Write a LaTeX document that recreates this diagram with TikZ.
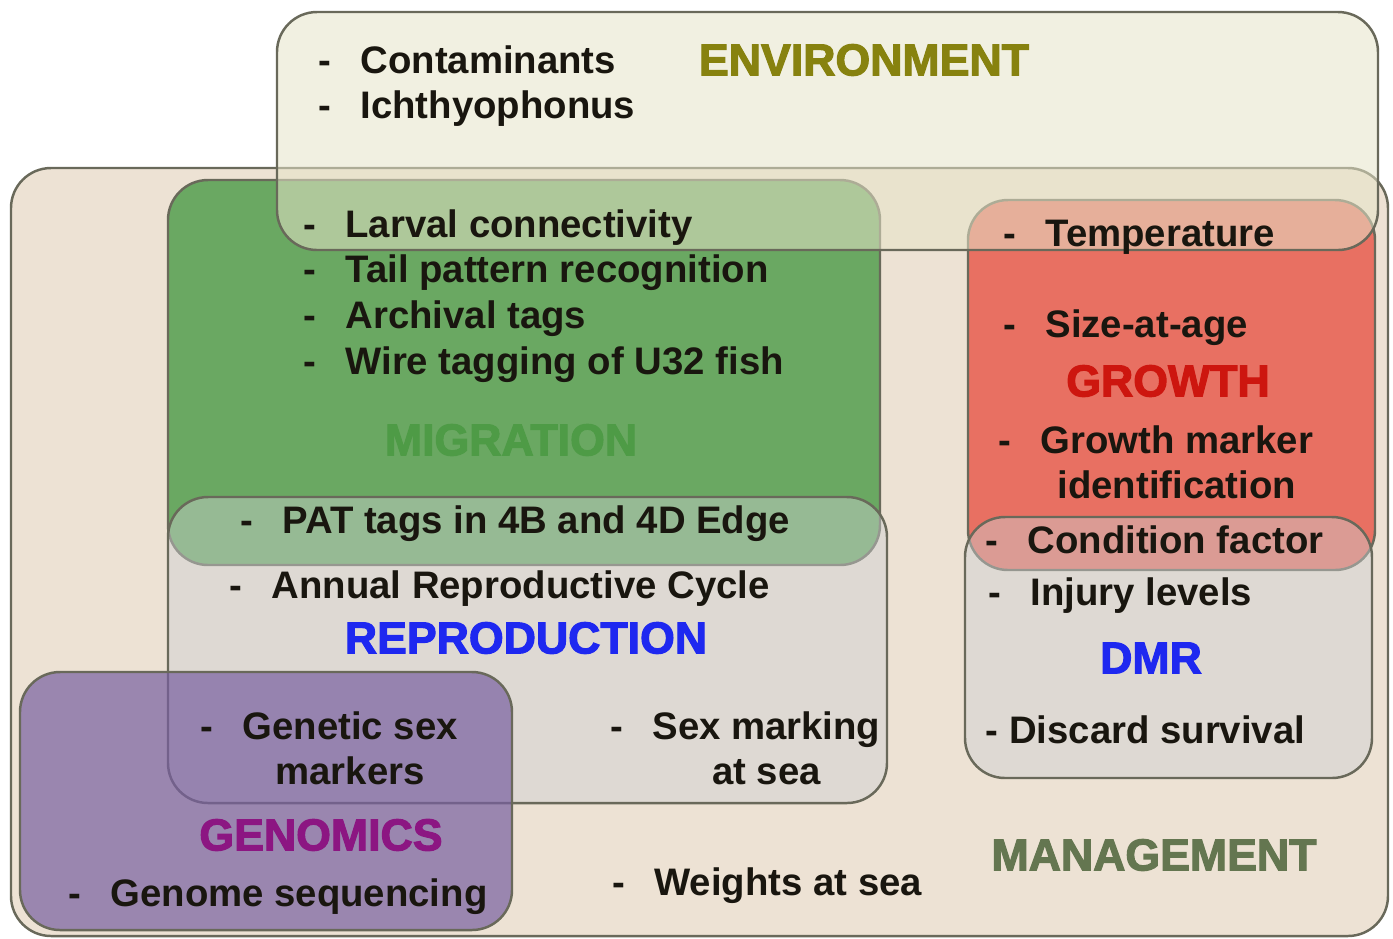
\documentclass[tikz,border=0pt]{standalone}
\usepackage{fontspec}
\setmainfont{Liberation Sans}
\newfontfamily\titlefont[UprightFont={* Bold},UprightFeatures={FakeBold=2.5}]{Liberation Sans}
\usetikzlibrary{positioning}

\definecolor{boxline}{RGB}{105,105,90}
\definecolor{itemtext}{RGB}{25,22,15}
\definecolor{mgmtfill}{RGB}{237,226,212}
\definecolor{envfill}{RGB}{230,228,200}
\definecolor{migfill}{RGB}{106,168,98}
\definecolor{growfill}{RGB}{232,112,98}
\definecolor{greyfill}{RGB}{205,208,210}
\definecolor{genfill}{RGB}{120,95,160}
\definecolor{envtitle}{RGB}{135,130,15}
\definecolor{migtitle}{RGB}{78,155,70}
\definecolor{growtitle}{RGB}{205,22,15}
\definecolor{reprotitle}{RGB}{30,40,240}
\definecolor{gentitle}{RGB}{140,22,130}
\definecolor{mgmttitle}{RGB}{100,118,80}

\tikzset{
  area box/.style={draw=boxline,line width=0.7pt,rounded corners=0.4cm},
  item/.style={anchor=base west,inner sep=0pt,text=itemtext,
    font=\bfseries\fontsize{10.9}{12.8}\selectfont},
  group label/.style={inner sep=0pt,font=\titlefont\fontsize{12.7}{15}\selectfont},
}
\newcommand{\dashitem}[1]{-\hspace{2.9mm}#1}

\begin{document}
\begin{tikzpicture}[x=0.01cm,y=-0.01cm]
    \useasboundingbox (0,0) rectangle (1393,938);

    % areas, back to front
    \path[area box,fill=mgmtfill] (11,168) rectangle (1388,936);
    \path[area box,fill=migfill] (168,180) rectangle (880,565);
    \path[area box,fill=growfill] (968,200) rectangle (1375,570);
    \path[area box,fill=greyfill,fill opacity=0.45] (168,497) rectangle (887,803);
    \path[area box,fill=greyfill,fill opacity=0.45] (965,517) rectangle (1372,778);
    \path[area box,fill=genfill,fill opacity=0.7] (20,672) rectangle (512,930);
    \path[area box,fill=envfill,fill opacity=0.55] (277,12) rectangle (1378,250);

    % environment
    \node[group label,text=envtitle] (env) at (864,60) {ENVIRONMENT};
    \node[item] (contam) at (318,73) {\dashitem{Contaminants}};
    \node[item] (ichthy) at (318,118) {\dashitem{Ichthyophonus}};

    % migration
    \node[item] (larval) at (303,237) {\dashitem{Larval connectivity}};
    \node[item] (tail) at (303,282) {\dashitem{Tail pattern recognition}};
    \node[item] (archival) at (303,328) {\dashitem{Archival tags}};
    \node[item] (wire) at (303,374) {\dashitem{Wire tagging of U32 fish}};
    \node[group label,text=migtitle] (mig) at (511,440) {MIGRATION};
    \node[item] (pat) at (240,533) {\dashitem{PAT tags in 4B and 4D Edge}};

    % reproduction
    \node[item] (annual) at (229,598) {\dashitem{Annual Reproductive Cycle}};
    \node[group label,text=reprotitle] (repro) at (526,638) {REPRODUCTION};
    \node[item] (gensex) at (200,739) {\begin{tabular}[t]{@{}l@{\hspace{2.9mm}}c@{}}-&Genetic sex\\&markers\end{tabular}};
    \node[item] (sexmark) at (610,739) {\begin{tabular}[t]{@{}l@{\hspace{2.9mm}}c@{}}-&Sex marking\\&at sea\end{tabular}};

    % genomics
    \node[group label,text=gentitle] (gen) at (321,835) {GENOMICS};
    \node[item] (genome) at (68,906) {\dashitem{Genome sequencing}};

    % growth
    \node[item] (temp) at (1003,246) {\dashitem{Temperature}};
    \node[item] (size) at (1003,337) {\dashitem{Size-at-age}};
    \node[group label,text=growtitle] (growth) at (1168,381) {GROWTH};
    \node[item] (marker) at (998,453) {\begin{tabular}[t]{@{}l@{\hspace{2.9mm}}c@{}}-&Growth marker\\&identification\end{tabular}};
    \node[item] (cond) at (985,553) {\dashitem{Condition factor}};

    % dmr
    \node[item] (injury) at (988,605) {\dashitem{Injury levels}};
    \node[group label,text=reprotitle] (dmr) at (1151,658) {DMR};
    \node[item] (discard) at (985,743) {- Discard survival};

    % management
    \node[item] (weights) at (612,895) {\dashitem{Weights at sea}};
    \node[group label,text=mgmttitle] (mgmt) at (1154,855) {MANAGEMENT};
\end{tikzpicture}
\end{document}
